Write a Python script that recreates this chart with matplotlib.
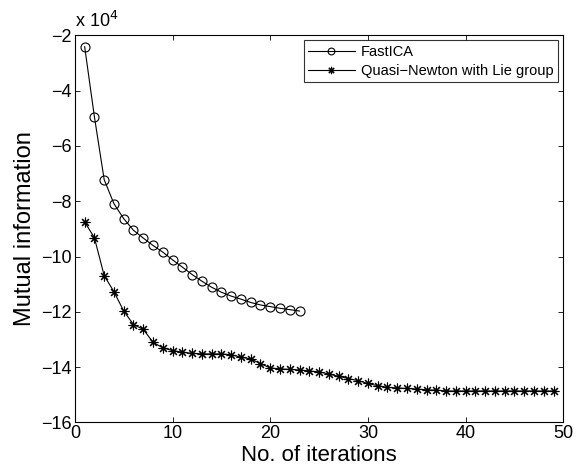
import matplotlib
matplotlib.use("Agg")
import matplotlib.pyplot as plt

plt.rcParams['font.family'] = ['Liberation Sans', 'DejaVu Sans']

# Values in units of 1e4
fastica = [-2.41, -4.95, -7.22, -8.09, -8.63, -9.05, -9.33, -9.60, -9.84, -10.12,
           -10.38, -10.65, -10.89, -11.11, -11.29, -11.43, -11.54, -11.66, -11.75,
           -11.81, -11.87, -11.92, -11.97]
quasi = [-8.75, -9.32, -10.69, -11.27, -11.97, -12.46, -12.63, -13.10, -13.30, -13.40,
         -13.46, -13.50, -13.52, -13.52, -13.52, -13.55, -13.64, -13.70, -13.87, -14.03,
         -14.06, -14.08, -14.10, -14.14, -14.17, -14.25, -14.33, -14.41, -14.49, -14.59,
         -14.67, -14.73, -14.75, -14.77, -14.79, -14.82, -14.83, -14.86, -14.86, -14.86,
         -14.86, -14.86, -14.86, -14.86, -14.86, -14.86, -14.86, -14.86, -14.86]
iters_f = list(range(1, len(fastica) + 1))
iters_q = list(range(1, len(quasi) + 1))
xticks = [0, 10, 20, 30, 40, 50]
yticks = [-16, -14, -12, -10, -8, -6, -4, -2]

fig = plt.figure(figsize=(5.76, 4.71), dpi=100)
ax = fig.add_axes([0.130, 0.103, 0.848, 0.822])

ax.plot(iters_f, fastica, color='black', lw=0.8, marker='o', ms=6.5,
        mfc='none', mec='black', mew=0.8, label='FastICA')
ax.plot(iters_q, quasi, color='black', lw=0.8, marker=(8, 2, 0), ms=7,
        mec='black', mew=0.8, label='Quasi\u2212Newton with Lie group')

ax.set_xlim(0, 50)
ax.set_ylim(-16, -2)
ax.set_xticks(xticks)
ax.set_yticks(yticks)
ax.tick_params(direction='in', top=True, right=True, length=3.5, width=0.6,
               labelsize=13, pad=2, colors='black')
for s in ax.spines.values():
    s.set_linewidth(0.8)

ax.set_xlabel('No. of iterations', fontsize=16, labelpad=2)
ax.set_ylabel('Mutual information', fontsize=17, labelpad=4)
ax.text(0.0, 1.012, r'x 10$^{4}$', transform=ax.transAxes, fontsize=13,
        ha='left', va='bottom')

leg = ax.legend(loc='upper right', fontsize=10.5, frameon=True, fancybox=False,
                edgecolor='black', handlelength=3.2, handletextpad=0.45,
                borderpad=0.3, labelspacing=0.35, borderaxespad=0.35,
                markerscale=0.75)
leg.get_frame().set_linewidth(0.8)

fig.savefig('out.png', dpi=100)
